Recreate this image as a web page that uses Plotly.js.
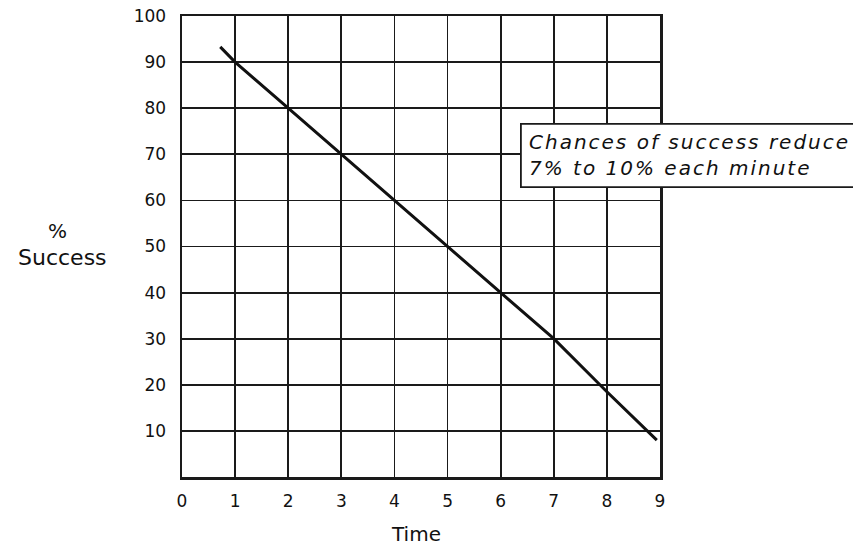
<!DOCTYPE html>
<html>
<head>
<meta charset="utf-8">
<script src="https://cdn.plot.ly/plotly-3.0.1.min.js"></script>
<style>
  html, body { margin: 0; padding: 0; background: #fff; }
  #chart { width: 853px; height: 548px; }
  g.annotation[data-index="0"] text { letter-spacing: 2px; }
</style>
</head>
<body>
<div id="chart"></div>
<script>
const timeValues = [0.72, 1, 2, 3, 4, 5, 6, 7, 8, 8.94];
const successValues = [93.3, 90, 80, 70, 60, 50, 40, 30, 18.5, 8];
const xTickVals = [0, 1, 2, 3, 4, 5, 6, 7, 8, 9];
const xTickText = ['0', '1', '2', '3', '4', '5', '6', '7', '8', '9'];
const yTickVals = [10, 20, 30, 40, 50, 60, 70, 80, 90, 100];
const yTickText = ['10', '20', '30', '40', '50', '60', '70', '80', '90', '100'];
const noteText = 'Chances of success reduce<br>7% to 10% each minute';

const ink = '#1a1a1a';
const tickFont = { family: 'DejaVu Sans, Arial, sans-serif', size: 17, color: '#111' };

const trace = {
  x: timeValues,
  y: successValues,
  mode: 'lines',
  line: { color: '#111', width: 3 },
  hoverinfo: 'skip',
  showlegend: false
};

const layout = {
  width: 853,
  height: 548,
  margin: { l: 182, r: 193, t: 16, b: 71 },
  paper_bgcolor: '#fff',
  plot_bgcolor: '#fff',
  showlegend: false,
  xaxis: {
    range: [0, 9],
    tickvals: xTickVals,
    ticktext: xTickText,
    showgrid: true,
    gridcolor: ink,
    gridwidth: 1.8,
    showline: true,
    linecolor: ink,
    linewidth: 2.5,
    mirror: true,
    zeroline: false,
    ticks: '',
    ticklabelstandoff: 7,
    tickfont: tickFont,
    fixedrange: true
  },
  yaxis: {
    range: [0, 100],
    tickvals: yTickVals,
    ticktext: yTickText,
    showgrid: true,
    gridcolor: ink,
    gridwidth: 1.8,
    showline: true,
    linecolor: ink,
    linewidth: 2.5,
    mirror: true,
    zeroline: false,
    ticks: '',
    ticklabelstandoff: 10,
    tickfont: tickFont,
    fixedrange: true
  },
  shapes: [{
    type: 'rect',
    xref: 'paper', yref: 'paper',
    x0: 0.709, x1: 1.6,
    y0: 0.629, y1: 0.766,
    fillcolor: '#fff',
    line: { color: ink, width: 1.8 },
    layer: 'above'
  }],
  annotations: [
    {
      text: noteText,
      xref: 'paper', yref: 'paper',
      x: 0.722, y: 0.6985,
      xanchor: 'left', yanchor: 'middle',
      align: 'left',
      showarrow: false,
      font: { family: 'DejaVu Sans, Arial, sans-serif', size: 20, style: 'italic', color: '#111' }
    },
    {
      text: '%',
      xref: 'paper', yref: 'paper',
      x: -0.2615, y: 0.5336,
      xanchor: 'center', yanchor: 'middle',
      showarrow: false,
      font: { family: 'DejaVu Sans, Arial, sans-serif', size: 20, color: '#111' }
    },
    {
      text: 'Success',
      xref: 'paper', yref: 'paper',
      x: -0.251, y: 0.4772,
      xanchor: 'center', yanchor: 'middle',
      showarrow: false,
      font: { family: 'DejaVu Sans, Arial, sans-serif', size: 22, color: '#111' }
    },
    {
      text: 'Time',
      xref: 'paper', yref: 'paper',
      x: 0.4895, y: -0.124,
      xanchor: 'center', yanchor: 'middle',
      showarrow: false,
      font: { family: 'DejaVu Sans, Arial, sans-serif', size: 20, color: '#111' }
    }
  ]
};

Plotly.newPlot('chart', [trace], layout, { displayModeBar: false, staticPlot: true });
</script>
</body>
</html>
